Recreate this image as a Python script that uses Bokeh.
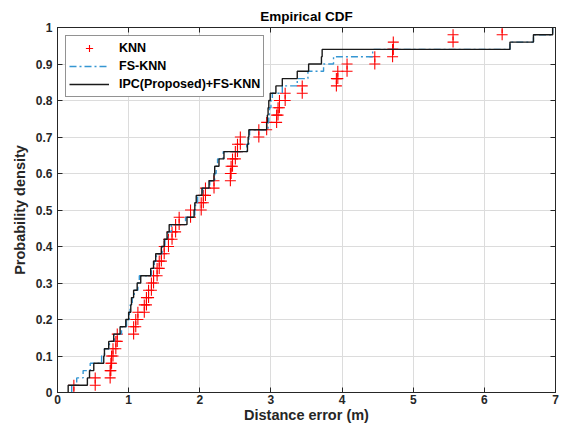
from bokeh.plotting import figure
from bokeh.models import ColumnDataSource, LinearAxis, FixedTicker, Legend, LegendItem
from bokeh.embed import file_html
from bokeh.resources import INLINE

# ---- data ----
knn_err = [0.23, 0.53, 0.74, 0.75, 0.76, 0.78, 0.82, 0.84, 1.07, 1.10,
           1.13, 1.22, 1.25, 1.28, 1.32, 1.35, 1.40, 1.43, 1.46, 1.50,
           1.56, 1.61, 1.66, 1.71, 1.87, 2.02, 2.05, 2.08, 2.20, 2.43,
           2.44, 2.46, 2.50, 2.53, 2.57, 2.83, 2.94, 3.08, 3.10, 3.12,
           3.20, 3.44, 3.92, 3.94, 4.07, 4.46, 4.71, 4.72, 5.56, 6.25]
fsknn_err = [0.20, 0.27, 0.36, 0.46, 0.62, 0.66, 0.73, 0.80, 0.90, 0.97,
             1.01, 1.02, 1.05, 1.08, 1.13, 1.15, 1.32, 1.36, 1.39, 1.47,
             1.51, 1.55, 1.60, 1.80, 1.93, 1.94, 1.97, 2.04, 2.14, 2.21,
             2.23, 2.25, 2.33, 2.66, 2.69, 2.70, 2.96, 2.97, 2.98, 3.00,
             3.02, 3.16, 3.37, 3.52, 3.74, 3.88, 4.43, 6.36, 6.69, 6.96]
ipc_err = [0.15, 0.42, 0.45, 0.51, 0.65, 0.66, 0.72, 0.79, 0.88, 0.96,
           1.00, 1.03, 1.04, 1.07, 1.12, 1.17, 1.31, 1.35, 1.38, 1.46,
           1.50, 1.54, 1.57, 1.82, 1.92, 1.93, 1.95, 2.03, 2.13, 2.20,
           2.21, 2.27, 2.34, 2.67, 2.68, 2.69, 2.94, 2.95, 2.96, 2.97,
           2.99, 3.07, 3.16, 3.37, 3.53, 3.71, 3.72, 6.36, 6.69, 6.96]
series_names = ["KNN", "FS-KNN", "IPC(Proposed)+FS-KNN"]
x_ticks = [0, 1, 2, 3, 4, 5, 6, 7]
y_ticks = [0, 0.1, 0.2, 0.3, 0.4, 0.5, 0.6, 0.7, 0.8, 0.9, 1]
y_tick_labels = ["0", "0.1", "0.2", "0.3", "0.4", "0.5", "0.6", "0.7", "0.8", "0.9", "1"]


def ecdf_steps(vals):
    xs = sorted(vals)
    n = len(xs)
    return [xs[0]] + xs, [0.0] + [(i + 1) / n for i in range(n)]


def ecdf_vertices(vals):
    xs = sorted(vals)
    n = len(xs)
    vx, vy = [], []
    for i, v in enumerate(xs):
        vx += [v, v]
        vy += [i / n, (i + 1) / n]
    return vx, vy


FONT = "Liberation Sans"
TXT = "#262626"

p = figure(width=564, height=438, output_backend="svg", toolbar_location=None,
           x_range=(0, 7), y_range=(0, 1),
           min_border_left=57, min_border_right=9, min_border_top=27, min_border_bottom=46)
p.background_fill_color = "white"
p.border_fill_color = "white"
p.outline_line_color = TXT
p.outline_line_width = 1

p.title.text = "Empirical CDF"
p.title.align = "center"
p.title.text_font = FONT
p.title.text_font_size = "13.5px"
p.title.text_font_style = "bold"
p.title.text_color = "black"
p.title.standoff = 8

for ax in (p.xaxis[0], p.yaxis[0]):
    ax.major_tick_in = 5
    ax.major_tick_out = 0
    ax.minor_tick_in = 0
    ax.minor_tick_out = 0
    ax.axis_line_color = TXT
    ax.major_tick_line_color = TXT
    ax.major_label_text_font = FONT
    ax.major_label_text_font_size = "12px"
    ax.major_label_text_font_style = "bold"
    ax.major_label_text_color = TXT
    ax.axis_label_text_font = FONT
    ax.axis_label_text_font_size = "14.5px"
    ax.axis_label_text_font_style = "bold"
    ax.axis_label_text_color = TXT

p.xaxis[0].ticker = FixedTicker(ticks=x_ticks)
p.yaxis[0].ticker = FixedTicker(ticks=y_ticks)
p.yaxis[0].major_label_overrides = {t: l for t, l in zip(y_ticks, y_tick_labels)}
p.xaxis[0].axis_label = "Distance error (m)"
p.yaxis[0].axis_label = "Probability density"
p.xaxis[0].major_label_standoff = 2
p.yaxis[0].major_label_standoff = 5
p.xaxis[0].axis_label_standoff = 0
p.yaxis[0].axis_label_standoff = 5

p.xgrid.ticker = FixedTicker(ticks=x_ticks)
p.ygrid.ticker = FixedTicker(ticks=y_ticks)
for g in (p.xgrid[0], p.ygrid[0]):
    g.grid_line_color = "#dcdcdc"
    g.grid_line_width = 1

# box ticks on top and right (no labels)
top_ax = LinearAxis(ticker=FixedTicker(ticks=x_ticks),
                    major_label_overrides={t: "" for t in x_ticks},
                    major_tick_in=5, major_tick_out=0, minor_tick_in=0, minor_tick_out=0,
                    major_label_standoff=0, axis_line_color=TXT, major_tick_line_color=TXT)
right_ax = LinearAxis(ticker=FixedTicker(ticks=y_ticks),
                      major_label_overrides={t: "" for t in y_ticks},
                      major_tick_in=5, major_tick_out=0, minor_tick_in=0, minor_tick_out=0,
                      major_label_standoff=0, axis_line_color=TXT, major_tick_line_color=TXT)
p.add_layout(top_ax, "above")
p.add_layout(right_ax, "right")

kx, ky = ecdf_vertices(knn_err)
fx, fy = ecdf_steps(fsknn_err)
ix, iy = ecdf_steps(ipc_err)
src_knn = ColumnDataSource(dict(x=kx, y=ky))
src_fs = ColumnDataSource(dict(x=fx, y=fy))
src_ipc = ColumnDataSource(dict(x=ix, y=iy))

r_knn = p.scatter("x", "y", source=src_knn, marker="cross", size=11,
                  line_color="#ff0000", line_width=1.1)
r_fs = p.step("x", "y", source=src_fs, mode="after", line_color="#3596d2",
              line_width=1.4, line_dash="7 3 2 3")
r_ipc = p.step("x", "y", source=src_ipc, mode="after", line_color="#1a1a1a",
               line_width=1.4)

legend = Legend(items=[LegendItem(label=series_names[0], renderers=[r_knn]),
                       LegendItem(label=series_names[1], renderers=[r_fs]),
                       LegendItem(label=series_names[2], renderers=[r_ipc])],
                location="top_left")
legend.margin = 8
legend.padding = 3
legend.spacing = -2
legend.glyph_width = 40
legend.glyph_height = 18
legend.label_standoff = 10
legend.label_text_font = FONT
legend.label_text_font_size = "12.5px"
legend.label_text_font_style = "bold"
legend.label_text_color = "black"
legend.label_height = 14
legend.border_line_color = TXT
legend.border_line_width = 1
legend.background_fill_color = "white"
legend.background_fill_alpha = 1
p.add_layout(legend)

open("out.html", "w").write(file_html(p, INLINE))
